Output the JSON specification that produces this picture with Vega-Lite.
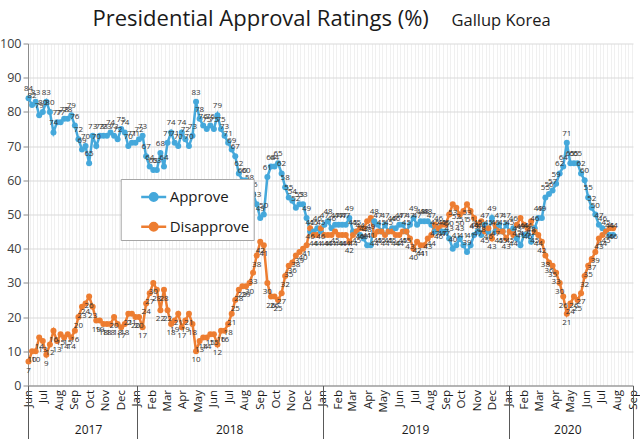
{
  "$schema": "https://vega.github.io/schema/vega-lite/v6.json",
  "width": 605,
  "height": 342,
  "autosize": "none",
  "padding": {"left": 28, "top": 43.5, "right": 7, "bottom": 53.5},
  "background": "white",
  "config": {"view": {"stroke": null}, "font": "Open Sans"},
  "data": {"values": [
    {"date":"2017-06-02","Approve":84,"Disapprove":7},
    {"date":"2017-06-09","Approve":82,"Disapprove":10},
    {"date":"2017-06-16","Approve":83,"Disapprove":10},
    {"date":"2017-06-23","Approve":79,"Disapprove":14},
    {"date":"2017-06-30","Approve":80,"Disapprove":13},
    {"date":"2017-07-07","Approve":83,"Disapprove":9},
    {"date":"2017-07-14","Approve":80,"Disapprove":12},
    {"date":"2017-07-21","Approve":74,"Disapprove":16},
    {"date":"2017-07-28","Approve":77,"Disapprove":13},
    {"date":"2017-08-04","Approve":77,"Disapprove":15},
    {"date":"2017-08-11","Approve":78,"Disapprove":14},
    {"date":"2017-08-18","Approve":78,"Disapprove":15},
    {"date":"2017-08-25","Approve":79,"Disapprove":14},
    {"date":"2017-09-01","Approve":76,"Disapprove":16},
    {"date":"2017-09-08","Approve":72,"Disapprove":20},
    {"date":"2017-09-15","Approve":69,"Disapprove":23},
    {"date":"2017-09-22","Approve":70,"Disapprove":24},
    {"date":"2017-09-29","Approve":65,"Disapprove":26},
    {"date":"2017-10-06","Approve":73,"Disapprove":23},
    {"date":"2017-10-13","Approve":70,"Disapprove":19},
    {"date":"2017-10-20","Approve":73,"Disapprove":19},
    {"date":"2017-10-27","Approve":73,"Disapprove":18},
    {"date":"2017-11-03","Approve":73,"Disapprove":18},
    {"date":"2017-11-10","Approve":74,"Disapprove":18},
    {"date":"2017-11-17","Approve":73,"Disapprove":20},
    {"date":"2017-11-24","Approve":72,"Disapprove":18},
    {"date":"2017-12-01","Approve":75,"Disapprove":17},
    {"date":"2017-12-08","Approve":74,"Disapprove":18},
    {"date":"2017-12-15","Approve":70,"Disapprove":21},
    {"date":"2017-12-22","Approve":71,"Disapprove":21},
    {"date":"2017-12-29","Approve":71,"Disapprove":20},
    {"date":"2018-01-05","Approve":72,"Disapprove":20},
    {"date":"2018-01-12","Approve":73,"Disapprove":17},
    {"date":"2018-01-19","Approve":67,"Disapprove":24},
    {"date":"2018-01-26","Approve":64,"Disapprove":27},
    {"date":"2018-02-02","Approve":63,"Disapprove":30},
    {"date":"2018-02-09","Approve":63,"Disapprove":28},
    {"date":"2018-02-16","Approve":68,"Disapprove":22},
    {"date":"2018-02-23","Approve":64,"Disapprove":28},
    {"date":"2018-03-02","Approve":71,"Disapprove":22},
    {"date":"2018-03-09","Approve":74,"Disapprove":18},
    {"date":"2018-03-16","Approve":71,"Disapprove":19},
    {"date":"2018-03-23","Approve":70,"Disapprove":21},
    {"date":"2018-03-30","Approve":74,"Disapprove":17},
    {"date":"2018-04-06","Approve":72,"Disapprove":19},
    {"date":"2018-04-13","Approve":70,"Disapprove":21},
    {"date":"2018-04-20","Approve":73,"Disapprove":18},
    {"date":"2018-04-27","Approve":83,"Disapprove":10},
    {"date":"2018-05-04","Approve":78,"Disapprove":13},
    {"date":"2018-05-11","Approve":76,"Disapprove":14},
    {"date":"2018-05-18","Approve":75,"Disapprove":14},
    {"date":"2018-05-25","Approve":76,"Disapprove":15},
    {"date":"2018-06-01","Approve":75,"Disapprove":15},
    {"date":"2018-06-08","Approve":79,"Disapprove":12},
    {"date":"2018-06-15","Approve":75,"Disapprove":16},
    {"date":"2018-06-22","Approve":73,"Disapprove":16},
    {"date":"2018-06-29","Approve":71,"Disapprove":18},
    {"date":"2018-07-06","Approve":69,"Disapprove":21},
    {"date":"2018-07-13","Approve":67,"Disapprove":25},
    {"date":"2018-07-20","Approve":62,"Disapprove":28},
    {"date":"2018-07-27","Approve":60,"Disapprove":29},
    {"date":"2018-08-03","Approve":60,"Disapprove":29},
    {"date":"2018-08-10","Approve":58,"Disapprove":30},
    {"date":"2018-08-17","Approve":56,"Disapprove":33},
    {"date":"2018-08-24","Approve":53,"Disapprove":38},
    {"date":"2018-08-31","Approve":49,"Disapprove":42},
    {"date":"2018-09-07","Approve":50,"Disapprove":41},
    {"date":"2018-09-14","Approve":61,"Disapprove":30},
    {"date":"2018-09-21","Approve":64,"Disapprove":26},
    {"date":"2018-09-28","Approve":64,"Disapprove":26},
    {"date":"2018-10-05","Approve":65,"Disapprove":25},
    {"date":"2018-10-12","Approve":62,"Disapprove":27},
    {"date":"2018-10-19","Approve":58,"Disapprove":32},
    {"date":"2018-10-26","Approve":55,"Disapprove":35},
    {"date":"2018-11-02","Approve":54,"Disapprove":36},
    {"date":"2018-11-09","Approve":52,"Disapprove":38},
    {"date":"2018-11-16","Approve":53,"Disapprove":39},
    {"date":"2018-11-23","Approve":53,"Disapprove":40},
    {"date":"2018-11-30","Approve":49,"Disapprove":41},
    {"date":"2018-12-07","Approve":45,"Disapprove":46},
    {"date":"2018-12-14","Approve":45,"Disapprove":44},
    {"date":"2018-12-21","Approve":46,"Disapprove":44},
    {"date":"2018-12-28","Approve":45,"Disapprove":46},
    {"date":"2019-01-04","Approve":47,"Disapprove":44},
    {"date":"2019-01-11","Approve":48,"Disapprove":44},
    {"date":"2019-01-18","Approve":46,"Disapprove":44},
    {"date":"2019-01-25","Approve":47,"Disapprove":45},
    {"date":"2019-02-01","Approve":47,"Disapprove":44},
    {"date":"2019-02-08","Approve":47,"Disapprove":44},
    {"date":"2019-02-15","Approve":47,"Disapprove":44},
    {"date":"2019-02-22","Approve":49,"Disapprove":42},
    {"date":"2019-03-01","Approve":45,"Disapprove":44},
    {"date":"2019-03-08","Approve":45,"Disapprove":45},
    {"date":"2019-03-15","Approve":44,"Disapprove":46},
    {"date":"2019-03-22","Approve":43,"Disapprove":46},
    {"date":"2019-03-29","Approve":41,"Disapprove":48},
    {"date":"2019-04-05","Approve":41,"Disapprove":49},
    {"date":"2019-04-12","Approve":48,"Disapprove":44},
    {"date":"2019-04-19","Approve":47,"Disapprove":45},
    {"date":"2019-04-26","Approve":45,"Disapprove":45},
    {"date":"2019-05-03","Approve":47,"Disapprove":44},
    {"date":"2019-05-10","Approve":45,"Disapprove":45},
    {"date":"2019-05-17","Approve":46,"Disapprove":45},
    {"date":"2019-05-24","Approve":46,"Disapprove":44},
    {"date":"2019-05-31","Approve":47,"Disapprove":44},
    {"date":"2019-06-07","Approve":47,"Disapprove":45},
    {"date":"2019-06-14","Approve":45,"Disapprove":45},
    {"date":"2019-06-21","Approve":47,"Disapprove":43},
    {"date":"2019-06-28","Approve":49,"Disapprove":40},
    {"date":"2019-07-05","Approve":47,"Disapprove":42},
    {"date":"2019-07-12","Approve":48,"Disapprove":41},
    {"date":"2019-07-19","Approve":48,"Disapprove":41},
    {"date":"2019-07-26","Approve":48,"Disapprove":43},
    {"date":"2019-08-02","Approve":47,"Disapprove":44},
    {"date":"2019-08-09","Approve":45,"Disapprove":47},
    {"date":"2019-08-16","Approve":46,"Disapprove":46},
    {"date":"2019-08-23","Approve":45,"Disapprove":47},
    {"date":"2019-08-30","Approve":45,"Disapprove":47},
    {"date":"2019-09-06","Approve":43,"Disapprove":50},
    {"date":"2019-09-13","Approve":40,"Disapprove":53},
    {"date":"2019-09-20","Approve":41,"Disapprove":52},
    {"date":"2019-09-27","Approve":43,"Disapprove":50},
    {"date":"2019-10-04","Approve":41,"Disapprove":51},
    {"date":"2019-10-11","Approve":39,"Disapprove":53},
    {"date":"2019-10-18","Approve":41,"Disapprove":51},
    {"date":"2019-10-25","Approve":44,"Disapprove":49},
    {"date":"2019-11-01","Approve":45,"Disapprove":47},
    {"date":"2019-11-08","Approve":44,"Disapprove":48},
    {"date":"2019-11-15","Approve":47,"Disapprove":45},
    {"date":"2019-11-22","Approve":45,"Disapprove":46},
    {"date":"2019-11-29","Approve":49,"Disapprove":43},
    {"date":"2019-12-06","Approve":45,"Disapprove":47},
    {"date":"2019-12-13","Approve":47,"Disapprove":45},
    {"date":"2019-12-20","Approve":45,"Disapprove":45},
    {"date":"2019-12-27","Approve":47,"Disapprove":43},
    {"date":"2020-01-03","Approve":45,"Disapprove":45},
    {"date":"2020-01-10","Approve":46,"Disapprove":44},
    {"date":"2020-01-17","Approve":43,"Disapprove":47},
    {"date":"2020-01-24","Approve":41,"Disapprove":49},
    {"date":"2020-01-31","Approve":44,"Disapprove":47},
    {"date":"2020-02-07","Approve":44,"Disapprove":46},
    {"date":"2020-02-14","Approve":42,"Disapprove":48},
    {"date":"2020-02-21","Approve":46,"Disapprove":45},
    {"date":"2020-02-28","Approve":49,"Disapprove":44},
    {"date":"2020-03-06","Approve":49,"Disapprove":42},
    {"date":"2020-03-13","Approve":55,"Disapprove":38},
    {"date":"2020-03-20","Approve":56,"Disapprove":36},
    {"date":"2020-03-27","Approve":57,"Disapprove":35},
    {"date":"2020-04-03","Approve":59,"Disapprove":33},
    {"date":"2020-04-10","Approve":62,"Disapprove":30},
    {"date":"2020-04-17","Approve":64,"Disapprove":26},
    {"date":"2020-04-24","Approve":71,"Disapprove":21},
    {"date":"2020-05-01","Approve":65,"Disapprove":24},
    {"date":"2020-05-08","Approve":65,"Disapprove":26},
    {"date":"2020-05-15","Approve":65,"Disapprove":25},
    {"date":"2020-05-22","Approve":62,"Disapprove":27},
    {"date":"2020-05-29","Approve":60,"Disapprove":32},
    {"date":"2020-06-05","Approve":55,"Disapprove":35},
    {"date":"2020-06-12","Approve":52,"Disapprove":37},
    {"date":"2020-06-19","Approve":50,"Disapprove":39},
    {"date":"2020-06-26","Approve":47,"Disapprove":43},
    {"date":"2020-07-03","Approve":46,"Disapprove":44},
    {"date":"2020-07-10","Approve":45,"Disapprove":45},
    {"date":"2020-07-17","Approve":44,"Disapprove":46},
    {"date":"2020-07-24","Approve":44,"Disapprove":46}
  ]},
  "transform": [{"fold": ["Approve", "Disapprove"], "as": ["series", "value"]}],
  "encoding": {
    "y": {
      "field": "value", "type": "quantitative",
      "scale": {"domain": [0, 100], "nice": false, "zero": true},
      "axis": {
        "values": [0,10,20,30,40,50,60,70,80,90,100],
        "grid": true, "gridColor": "#d9d9d9", "gridWidth": 1,
        "domainColor": "#8c8c8c", "tickColor": "#8c8c8c", "tickSize": 5,
        "labelFontSize": 12.5, "labelColor": "#404040", "labelPadding": 2,
        "title": "Presidential Approval Ratings (%)",
        "titleX": 64, "titleY": -25, "titleAngle": 0,
        "titleAlign": "left", "titleBaseline": "middle",
        "titleFontSize": 22, "titleFontWeight": "normal", "titleColor": "#1a1a1a"
      }
    }
  },
  "layer": [
    {
      "mark": {"type": "line", "strokeWidth": 2.5},
      "encoding": {
        "x": {
          "field": "date", "type": "temporal",
          "scale": {"type": "utc", "domain": [{"year": 2017, "month": 6, "date": 1, "utc": true}, {"year": 2020, "month": 9, "date": 1, "utc": true}]},
          "axis": {
            "orient": "bottom", "tickCount": {"interval": "month", "step": 1},
            "format": "%b", "labelAngle": 270, "labelFontSize": 11.5,
            "labelColor": "#1a1a1a", "labelPadding": 4, "ticks": false, "grid": false,
            "domain": true, "domainColor": "#7f7f7f", "title": null,
            "labelOverlap": false, "labelFlush": false, "labelBound": false
          }
        },
        "color": {
          "field": "series", "type": "nominal",
          "scale": {"domain": ["Approve", "Disapprove"], "range": ["#45A8DB", "#ED7D31"]},
          "legend": {
            "orient": "none", "legendX": 92.7, "legendY": 135.5, "title": null,
            "symbolType": "M-1,0L1,0M-0.3,0A0.3,0.3,0,1,1,0.3,0A0.3,0.3,0,1,1,-0.3,0Z",
            "symbolSize": 625, "symbolStrokeWidth": 2.5,
            "labelFontSize": 15, "labelColor": "#1a1a1a", "labelFont": "Open Sans",
            "padding": 4, "symbolOffset": 15, "rowPadding": 6.7, "labelOffset": 2,
            "strokeColor": "#a6a6a6", "fillColor": "white",
            "encode": {"symbols": {"update": {
              "fill": {"scale": "color", "field": "value"},
              "stroke": {"scale": "color", "field": "value"},
              "opacity": {"value": 1}
            }}}
          }
        }
      }
    },
    {
      "mark": {"type": "point", "filled": true, "size": 36, "opacity": 1},
      "encoding": {
        "x": {
          "field": "date", "type": "temporal",
          "scale": {"type": "utc"},
          "axis": {
            "orient": "bottom", "tickCount": {"interval": "week", "step": 1},
            "grid": true, "gridColor": "#f0f0f0", "gridWidth": 1,
            "labels": false, "ticks": false, "domain": false,
            "title": "Gallup Korea", "titleX": 423, "titleY": -365, "titleAngle": 0,
            "titleAlign": "left", "titleBaseline": "middle",
            "titleFontSize": 16.5, "titleFontWeight": "normal", "titleColor": "#1a1a1a"
          }
        },
        "color": {"field": "series", "type": "nominal"}
      }
    },
    {
      "transform": [{"filter": "datum.series === 'Approve'"}],
      "mark": {"type": "text", "dy": -9, "fontSize": 8, "color": "#333333"},
      "encoding": {
        "x": {
          "field": "date", "type": "temporal",
          "scale": {"type": "utc"},
          "axis": {
            "orient": "bottom",
            "values": [
              {"year": 2017, "month": 6, "date": 1, "utc": true},
              {"year": 2018, "month": 1, "date": 1, "utc": true},
              {"year": 2019, "month": 1, "date": 1, "utc": true},
              {"year": 2020, "month": 1, "date": 1, "utc": true},
              {"year": 2020, "month": 9, "date": 1, "utc": true}
            ],
            "ticks": true, "tickSize": 53, "tickColor": "#595959", "tickWidth": 1,
            "labels": false, "domain": false, "grid": false, "title": null
          }
        },
        "text": {"field": "value", "type": "quantitative"}
      }
    },
    {
      "transform": [{"filter": "datum.series === 'Disapprove'"}],
      "mark": {"type": "text", "dy": 9, "fontSize": 8, "color": "#333333"},
      "encoding": {
        "x": {
          "field": "date", "type": "temporal",
          "scale": {"type": "utc"},
          "axis": {
            "orient": "bottom",
            "values": [
              {"year": 2017, "month": 9, "date": 27, "utc": true},
              {"year": 2018, "month": 7, "date": 1, "utc": true},
              {"year": 2019, "month": 7, "date": 1, "utc": true},
              {"year": 2020, "month": 4, "date": 25, "utc": true}
            ],
            "format": "%Y", "ticks": false, "domain": false, "grid": false,
            "labelPadding": 39, "labelFontSize": 12, "labelColor": "#1a1a1a",
            "title": null
          }
        },
        "text": {"field": "value", "type": "quantitative"}
      }
    }
  ],
  "resolve": {"axis": {"x": "independent"}}
}
